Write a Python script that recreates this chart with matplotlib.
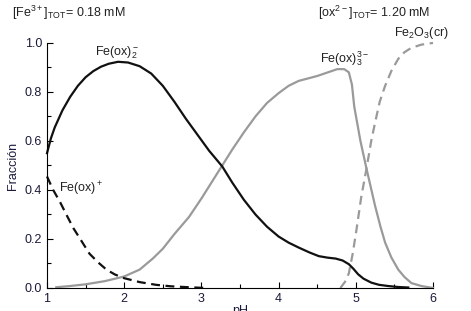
import matplotlib.pyplot as plt
from matplotlib.ticker import MultipleLocator

plt.rcParams['font.family'] = ['Liberation Sans', 'DejaVu Sans']
plt.rcParams['mathtext.fontset'] = 'custom'
plt.rcParams['mathtext.rm'] = 'Liberation Sans'

# Fe(ox)2-  (negro, continua)
ph_ox2 = [1.0, 1.05, 1.1, 1.2, 1.3, 1.4, 1.5, 1.6, 1.7, 1.8, 1.92, 2.05, 2.2, 2.35, 2.5, 2.65,
          2.8, 2.95, 3.1, 3.27, 3.4, 3.55, 3.7, 3.85, 4.0, 4.13, 4.26, 4.4, 4.52, 4.63, 4.74,
          4.83, 4.91, 4.97, 5.03, 5.1, 5.2, 5.3, 5.42, 5.55, 5.68]
fr_ox2 = [0.55, 0.61, 0.655, 0.725, 0.78, 0.825, 0.86, 0.885, 0.903, 0.915, 0.923, 0.92, 0.905,
          0.875, 0.825, 0.76, 0.69, 0.625, 0.56, 0.496, 0.43, 0.36, 0.30, 0.25, 0.21, 0.185,
          0.165, 0.145, 0.13, 0.124, 0.12, 0.112, 0.097, 0.078, 0.056, 0.038, 0.022, 0.013,
          0.008, 0.004, 0.002]

# Fe(ox)3 3-  (gris, continua)
ph_ox3 = [1.12, 1.3, 1.5, 1.75, 2.0, 2.2, 2.37, 2.5, 2.65, 2.84, 3.0, 3.15, 3.27, 3.4, 3.55,
          3.7, 3.85, 4.0, 4.13, 4.26, 4.5, 4.76, 4.85, 4.91, 4.95, 4.98, 5.06, 5.14, 5.25,
          5.32, 5.38, 5.46, 5.55, 5.63, 5.72, 5.85, 6.0]
fr_ox3 = [0.003, 0.008, 0.015, 0.028, 0.047, 0.075, 0.12, 0.16, 0.22, 0.29, 0.365, 0.44, 0.5,
          0.565, 0.635, 0.70, 0.755, 0.795, 0.825, 0.845, 0.865, 0.893, 0.893, 0.88, 0.83,
          0.74, 0.60, 0.485, 0.335, 0.25, 0.185, 0.125, 0.075, 0.045, 0.02, 0.008, 0.0]

# Fe(ox)+  (negro, discontinua)
ph_ox1 = [1.0, 1.08, 1.17, 1.25, 1.34, 1.45, 1.55, 1.66, 1.77, 1.88, 2.0, 2.2, 2.41, 2.6,
          2.84, 3.06]
fr_ox1 = [0.455, 0.40, 0.35, 0.30, 0.245, 0.19, 0.14, 0.105, 0.075, 0.055, 0.04, 0.024, 0.013,
          0.007, 0.003, 0.0]

# Fe2O3(cr)  (gris, discontinua)
ph_fe2o3 = [4.8, 4.86, 4.91, 4.96, 5.01, 5.07, 5.14, 5.2, 5.25, 5.31, 5.38, 5.46, 5.55, 5.63,
            5.72, 5.85, 6.0]
fr_fe2o3 = [0.0, 0.025, 0.06, 0.14, 0.24, 0.37, 0.49, 0.6, 0.675, 0.76, 0.825, 0.885, 0.935,
            0.962, 0.98, 0.993, 1.0]

fig = plt.figure(figsize=(4.71, 3.11), dpi=100)
ax = fig.add_axes([0.0998, 0.074, 0.8195, 0.788])

gris = '#9a9a9a'
ax.plot(ph_ox3, fr_ox3, color=gris, lw=1.6, clip_on=False)
ax.plot(ph_fe2o3, fr_fe2o3, color=gris, lw=1.6, ls=(0, (4, 2.5)), clip_on=False)
ax.plot(ph_ox2, fr_ox2, color='#111111', lw=1.6, clip_on=False)
ax.plot(ph_ox1, fr_ox1, color='#111111', lw=1.6, ls=(0, (4, 2.5)), clip_on=False)

ax.set_xlim(1, 6)
ax.set_ylim(0, 1)
ax.xaxis.set_major_locator(MultipleLocator(1))
ax.xaxis.set_minor_locator(MultipleLocator(0.5))
ax.yaxis.set_major_locator(MultipleLocator(0.2))
ax.yaxis.set_minor_locator(MultipleLocator(0.1))
ax.yaxis.set_major_formatter(plt.FormatStrFormatter('%.1f'))
ax.tick_params(which='both', direction='in', labelsize=9, labelcolor='#1a1a3a', width=0.8)
ax.tick_params(which='major', length=4)
ax.tick_params(which='minor', length=3)
for s in ['top', 'right']:
    ax.spines[s].set_visible(False)

ax.set_xlabel('pH', fontsize=9, color='#1a1a3a', labelpad=0)
ax.set_ylabel('Fracción', fontsize=9, color='#1a1a3a', labelpad=4)

# etiquetas
tc = '#222222'
fig.text(12 / 471, 1 - 13 / 311, r'$\mathregular{[Fe^{3+}]_{TOT}}$= 0.18 mM', fontsize=9, color=tc, va='center')
fig.text(318 / 471, 1 - 13 / 311, r'$\mathregular{[ox^{2-}]_{TOT}}$= 1.20 mM', fontsize=9, color=tc, va='center')
ax.text(1.62, 0.96, r'$\mathregular{Fe(ox)_2^-}$', fontsize=9, color=tc, va='center')
ax.text(4.54, 0.935, r'$\mathregular{Fe(ox)_3^{3-}}$', fontsize=9, color=tc, va='center')
ax.text(5.5, 1.04, r'$\mathregular{Fe_2O_3(cr)}$', fontsize=9, color=tc, va='center', clip_on=False)
ax.text(1.15, 0.405, r'$\mathregular{Fe(ox)^+}$', fontsize=9, color=tc, va='center')

fig.savefig('out.png', dpi=100)
